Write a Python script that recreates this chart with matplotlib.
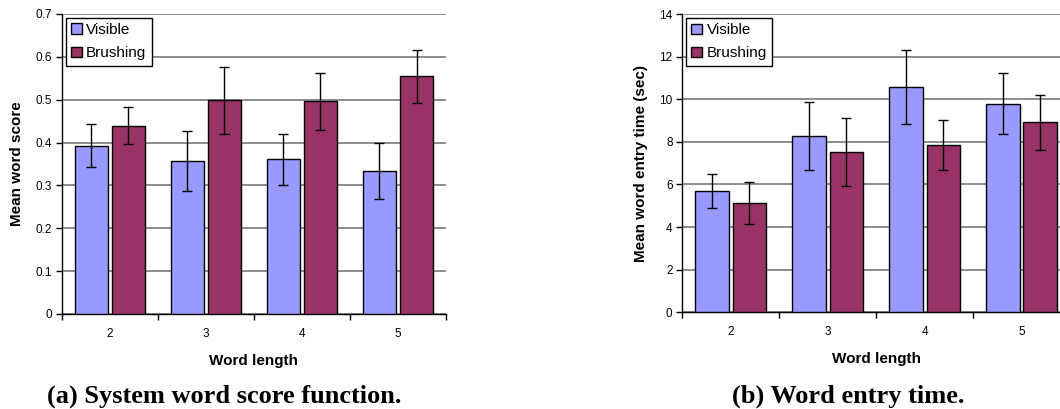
import matplotlib
matplotlib.use("Agg")
import matplotlib.pyplot as plt
import numpy as np

categories = ["2", "3", "4", "5"]
series = ["Visible", "Brushing"]

score_visible = [0.393, 0.356, 0.361, 0.334]
score_visible_err = [0.051, 0.070, 0.060, 0.065]
score_brushing = [0.439, 0.499, 0.496, 0.555]
score_brushing_err = [0.043, 0.078, 0.067, 0.062]

time_visible = [5.68, 8.26, 10.57, 9.79]
time_visible_err = [0.79, 1.60, 1.73, 1.43]
time_brushing = [5.13, 7.52, 7.85, 8.92]
time_brushing_err = [0.97, 1.60, 1.16, 1.30]

colors = ["#9999FF", "#993366"]

plt.rcParams['font.family'] = ['Liberation Sans', 'DejaVu Sans']

fig = plt.figure(figsize=(10.6, 4.09), dpi=100)


def draw(ax, vis, vis_err, bru, bru_err, ymax, ystep, ylabel, fmt):
    x = np.arange(len(categories))
    w = 0.345
    off = 0.193
    for vals, errs, c, o, lab in [(vis, vis_err, colors[0], -off, series[0]),
                                  (bru, bru_err, colors[1], off, series[1])]:
        ax.bar(x + o, vals, width=w, color=c, edgecolor="black", linewidth=1.0,
               label=lab, zorder=3)
        ax.errorbar(x + o, vals, yerr=errs, fmt="none", ecolor="black",
                    elinewidth=1.0, capsize=3.5, capthick=1.0, zorder=4)
    ax.set_xlim(-0.5, len(categories) - 0.5)
    ax.set_ylim(0, ymax)
    yt = np.arange(0, ymax + ystep / 2, ystep)
    ax.set_yticks(yt)
    ax.set_yticklabels([fmt(v) for v in yt], fontsize=8.5)
    ax.set_xticks(x)
    ax.set_xticklabels(categories, fontsize=8.5)
    ax.set_xticks(np.arange(-0.5, len(categories)), minor=True)
    ax.tick_params(axis="x", which="major", length=0, pad=10)
    ax.tick_params(axis="x", which="minor", length=4, direction="out", width=1)
    ax.tick_params(axis="y", length=4, direction="out", width=1, pad=3)
    ax.yaxis.grid(True, color="#6e6e6e", linewidth=1.1, zorder=0)
    ax.set_axisbelow(True)
    for s in ["top", "right"]:
        ax.spines[s].set_visible(False)
    for s in ["left", "bottom"]:
        ax.spines[s].set_color("black")
        ax.spines[s].set_linewidth(1.0)
    ax.set_ylabel(ylabel, fontsize=11, fontweight="bold", labelpad=8)
    ax.set_xlabel("Word length", fontsize=11, fontweight="bold", labelpad=10)
    leg = ax.legend(loc="upper left", fontsize=11, frameon=True, fancybox=False,
                    edgecolor="black", framealpha=1, handlelength=0.7,
                    handleheight=0.7, handletextpad=0.3, borderpad=0.35,
                    labelspacing=0.6, borderaxespad=0.25)
    leg.get_frame().set_linewidth(1.0)


ax1 = fig.add_axes([0.0582, 0.2323, 0.3626, 0.7335])
draw(ax1, score_visible, score_visible_err, score_brushing, score_brushing_err,
     0.7, 0.1, "Mean word score", lambda v: "0" if v == 0 else f"{v:.1f}")

ax2 = fig.add_axes([0.6437, 0.2364, 0.3657, 0.7293])
draw(ax2, time_visible, time_visible_err, time_brushing, time_brushing_err,
     14, 2, "Mean word entry time (sec)", lambda v: f"{int(v)}")

fig.text(224 / 1060, 1 - 396 / 409, "(a) System word score function.",
         ha="center", va="center", fontsize=19, fontweight="bold",
         family="Liberation Serif")
fig.text(848 / 1060, 1 - 396 / 409, "(b) Word entry time.",
         ha="center", va="center", fontsize=19, fontweight="bold",
         family="Liberation Serif")

fig.savefig("out.png", dpi=100)
